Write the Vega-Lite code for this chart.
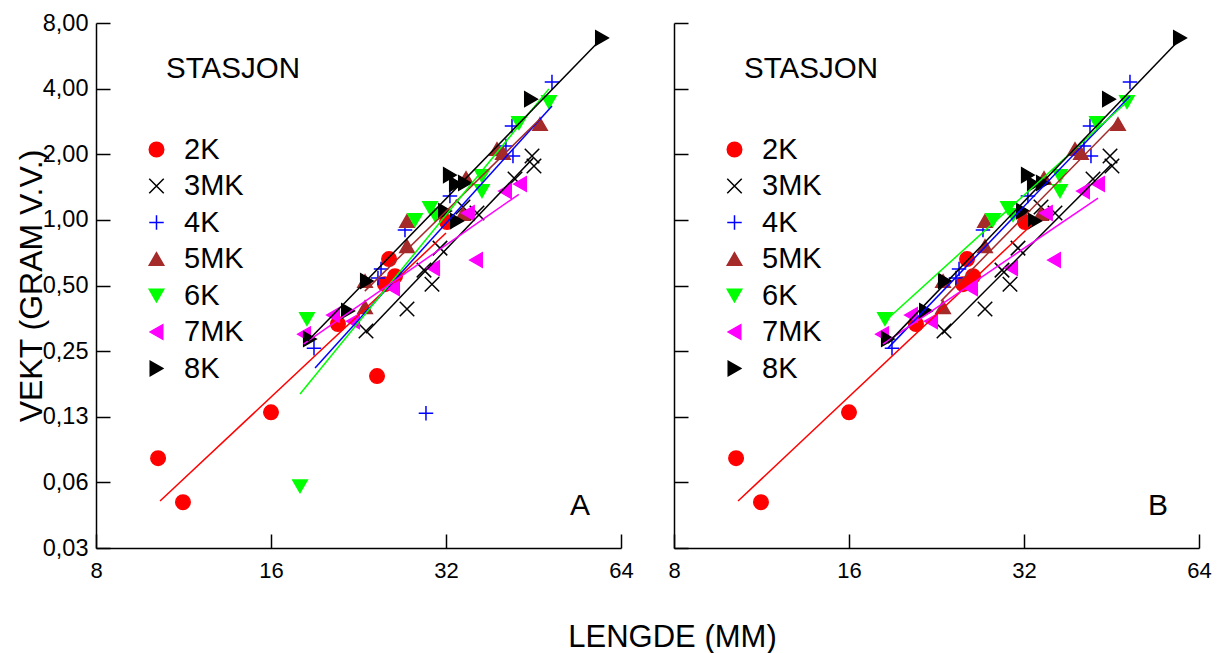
{
  "$schema": "https://vega.github.io/schema/vega-lite/v6.json",
  "background": "white",
  "padding": {"left": 14, "top": 11, "right": 5, "bottom": 5},
  "bounds": "flush",
  "spacing": 53,
  "config": {
    "view": {"stroke": null},
    "font": "Liberation Sans",
    "axis": {
      "domainColor": "black", "domainWidth": 1.5, "tickColor": "black", "tickWidth": 1.5, "tickSize": -14,
      "grid": false, "labelFont": "Liberation Sans", "labelFontSize": 22, "labelColor": "black",
      "titleFont": "Liberation Sans", "titleFontSize": 31, "titleFontWeight": "normal", "titleColor": "black",
      "labelFlush": false, "labelOverlap": false
    },
    "legend": {
      "orient": "none", "legendX": 46, "legendY": 112, "title": null,
      "labelFont": "Liberation Sans", "labelFontSize": 29, "labelColor": "black",
      "symbolSize": 210, "symbolStrokeWidth": 1.5, "labelOffset": 13, "rowPadding": 6.5
    }
  },
  "datasets": {
    "pts": [
      {"s": "2K", "x": 10.23, "y": 0.0807, "b": true},
      {"s": "2K", "x": 11.29, "y": 0.0507, "b": true},
      {"s": "2K", "x": 16.0, "y": 0.131, "b": true},
      {"s": "2K", "x": 24.35, "y": 0.192, "b": false},
      {"s": "2K", "x": 20.86, "y": 0.333, "b": true},
      {"s": "2K", "x": 25.54, "y": 0.661, "b": true},
      {"s": "2K", "x": 25.13, "y": 0.507, "b": true},
      {"s": "2K", "x": 26.15, "y": 0.552, "b": true},
      {"s": "2K", "x": 32.13, "y": 0.977, "b": true},
      {"s": "3MK", "x": 23.31, "y": 0.309, "b": true},
      {"s": "3MK", "x": 27.42, "y": 0.39, "b": true},
      {"s": "3MK", "x": 29.33, "y": 0.588, "b": true},
      {"s": "3MK", "x": 30.27, "y": 0.507, "b": true},
      {"s": "3MK", "x": 31.25, "y": 0.742, "b": true},
      {"s": "3MK", "x": 34.23, "y": 1.145, "b": true},
      {"s": "3MK", "x": 36.18, "y": 1.075, "b": true},
      {"s": "3MK", "x": 42.06, "y": 1.539, "b": true},
      {"s": "3MK", "x": 44.99, "y": 1.962, "b": true},
      {"s": "3MK", "x": 45.34, "y": 1.765, "b": true},
      {"s": "4K", "x": 18.97, "y": 0.258, "b": true},
      {"s": "4K", "x": 24.44, "y": 0.541, "b": true},
      {"s": "4K", "x": 24.74, "y": 0.595, "b": true},
      {"s": "4K", "x": 27.2, "y": 0.898, "b": true},
      {"s": "4K", "x": 29.56, "y": 0.1297, "b": false},
      {"s": "4K", "x": 32.5, "y": 1.286, "b": true},
      {"s": "4K", "x": 40.58, "y": 2.181, "b": true},
      {"s": "4K", "x": 41.56, "y": 2.694, "b": true},
      {"s": "4K", "x": 41.72, "y": 1.962, "b": true},
      {"s": "4K", "x": 48.69, "y": 4.29, "b": true},
      {"s": "5MK", "x": 23.22, "y": 0.398, "b": true},
      {"s": "5MK", "x": 23.22, "y": 0.524, "b": true},
      {"s": "5MK", "x": 27.42, "y": 0.988, "b": true},
      {"s": "5MK", "x": 27.42, "y": 0.758, "b": true},
      {"s": "5MK", "x": 34.23, "y": 1.063, "b": true},
      {"s": "5MK", "x": 34.64, "y": 1.555, "b": true},
      {"s": "5MK", "x": 39.16, "y": 2.113, "b": true},
      {"s": "5MK", "x": 40.1, "y": 2.025, "b": true},
      {"s": "5MK", "x": 46.43, "y": 2.751, "b": true},
      {"s": "6K", "x": 17.95, "y": 0.06, "b": false},
      {"s": "6K", "x": 18.45, "y": 0.351, "b": true},
      {"s": "6K", "x": 28.3, "y": 0.998, "b": true},
      {"s": "6K", "x": 30.04, "y": 1.133, "b": true},
      {"s": "6K", "x": 30.64, "y": 1.052, "b": true},
      {"s": "6K", "x": 36.9, "y": 1.589, "b": true},
      {"s": "6K", "x": 36.9, "y": 1.355, "b": true},
      {"s": "6K", "x": 42.73, "y": 2.78, "b": true},
      {"s": "6K", "x": 48.12, "y": 3.47, "b": true},
      {"s": "7MK", "x": 18.24, "y": 0.299, "b": true},
      {"s": "7MK", "x": 20.45, "y": 0.366, "b": true},
      {"s": "7MK", "x": 22.14, "y": 0.343, "b": true},
      {"s": "7MK", "x": 25.94, "y": 0.486, "b": true},
      {"s": "7MK", "x": 30.4, "y": 0.601, "b": true},
      {"s": "7MK", "x": 34.9, "y": 1.075, "b": true},
      {"s": "7MK", "x": 36.04, "y": 0.654, "b": true},
      {"s": "7MK", "x": 40.42, "y": 1.355, "b": true},
      {"s": "7MK", "x": 42.9, "y": 1.46, "b": true},
      {"s": "8K", "x": 18.67, "y": 0.284, "b": true},
      {"s": "8K", "x": 21.71, "y": 0.382, "b": true},
      {"s": "8K", "x": 23.4, "y": 0.524, "b": true},
      {"s": "8K", "x": 31.88, "y": 1.097, "b": true},
      {"s": "8K", "x": 32.5, "y": 1.605, "b": true},
      {"s": "8K", "x": 33.29, "y": 1.46, "b": true},
      {"s": "8K", "x": 34.5, "y": 1.475, "b": true},
      {"s": "8K", "x": 33.43, "y": 0.988, "b": true},
      {"s": "8K", "x": 44.81, "y": 3.58, "b": true},
      {"s": "8K", "x": 59.36, "y": 6.83, "b": true}
    ],
    "lns": [
      {"p": "A", "s": "2K", "x": 10.31, "y": 0.0513},
      {"p": "A", "s": "2K", "x": 32.0, "y": 0.87},
      {"p": "A", "s": "3MK", "x": 23.3, "y": 0.302},
      {"p": "A", "s": "3MK", "x": 45.2, "y": 1.92},
      {"p": "A", "s": "4K", "x": 19.05, "y": 0.209},
      {"p": "A", "s": "4K", "x": 48.7, "y": 3.33},
      {"p": "A", "s": "5MK", "x": 23.2, "y": 0.471},
      {"p": "A", "s": "5MK", "x": 46.4, "y": 2.9},
      {"p": "A", "s": "6K", "x": 17.95, "y": 0.159},
      {"p": "A", "s": "6K", "x": 48.1, "y": 3.99},
      {"p": "A", "s": "7MK", "x": 18.2, "y": 0.269},
      {"p": "A", "s": "7MK", "x": 42.7, "y": 1.31},
      {"p": "A", "s": "8K", "x": 18.5, "y": 0.278},
      {"p": "A", "s": "8K", "x": 59.4, "y": 6.83},
      {"p": "B", "s": "2K", "x": 10.31, "y": 0.0513},
      {"p": "B", "s": "2K", "x": 33.0, "y": 0.95},
      {"p": "B", "s": "3MK", "x": 23.12, "y": 0.299},
      {"p": "B", "s": "3MK", "x": 45.3, "y": 1.804},
      {"p": "B", "s": "4K", "x": 18.67, "y": 0.258},
      {"p": "B", "s": "4K", "x": 48.7, "y": 3.7},
      {"p": "B", "s": "5MK", "x": 23.03, "y": 0.424},
      {"p": "B", "s": "5MK", "x": 46.4, "y": 2.84},
      {"p": "B", "s": "6K", "x": 18.45, "y": 0.343},
      {"p": "B", "s": "6K", "x": 48.3, "y": 3.51},
      {"p": "B", "s": "7MK", "x": 18.3, "y": 0.269},
      {"p": "B", "s": "7MK", "x": 42.9, "y": 1.259},
      {"p": "B", "s": "8K", "x": 18.67, "y": 0.272},
      {"p": "B", "s": "8K", "x": 59.4, "y": 6.76}
    ],
    "lab": [
      {"p": "A", "k": "title", "t": "STASJON", "x": 10.56, "y": 4.92},
      {"p": "A", "k": "panel", "t": "A", "x": 54.4, "y": 0.0486},
      {"p": "B", "k": "title", "t": "STASJON", "x": 10.56, "y": 4.92},
      {"p": "B", "k": "panel", "t": "B", "x": 54.4, "y": 0.0486}
    ]
  },
  "resolve": {
    "scale": {"fill": "independent", "stroke": "independent", "shape": "independent", "color": "independent"},
    "legend": {"fill": "independent", "stroke": "independent", "shape": "independent"}
  },
  "hconcat": [
    {
      "width": 525, "height": 525,
      "layer": [
        {
          "data": {"name": "pts"},
          "mark": {"type": "point", "filled": true, "size": 210, "strokeWidth": 1.5, "opacity": 1},
          "encoding": {
            "x": {"field": "x", "type": "quantitative", "scale": {"type": "log", "base": 2, "domain": [8, 64], "nice": false},
              "axis": {"values": [8, 16, 32, 64], "title": "LENGDE (MM)", "labelPadding": 26, "titleX": 576, "titleY": 98, "titleBaseline": "alphabetic", "titleAlign": "center"}},
            "y": {"field": "y", "type": "quantitative", "scale": {"type": "log", "base": 2, "domain": [0.03125, 8], "nice": false},
              "axis": {"values": [0.03125, 0.0625, 0.125, 0.25, 0.5, 1, 2, 4, 8], "labelExpr": "replace(format(datum.value, '.2f'), '.', ',')", "labelPadding": 22, "labelFontSize": 23.5,
                "title": "VEKT (GRAM V.V.)", "titleFontSize": 32, "titleX": -55, "titleY": 262.5, "titleAngle": 270, "titleAlign": "center", "titleBaseline": "alphabetic"}},
            "fill": {"field": "s", "type": "nominal",
              "scale": {"domain": ["2K", "3MK", "4K", "5MK", "6K", "7MK", "8K"], "range": ["#ff0000", "#000000", "#0000ff", "#a52a2a", "#00ff00", "#ff00ff", "#000000"]}},
            "stroke": {"field": "s", "type": "nominal",
              "scale": {"domain": ["2K", "3MK", "4K", "5MK", "6K", "7MK", "8K"], "range": ["#ff0000", "#000000", "#0000ff", "#a52a2a", "#00ff00", "#ff00ff", "#000000"]}},
            "shape": {"field": "s", "type": "nominal",
              "scale": {"domain": ["2K", "3MK", "4K", "5MK", "6K", "7MK", "8K"], "range": ["circle", "M-1,-1L1,1M-1,1L1,-1", "M-1,0L1,0M0,-1L0,1", "triangle-up", "triangle-down", "triangle-left", "triangle-right"]}}
          }
        },
        {
          "data": {"name": "lns"},
          "transform": [{"filter": "datum.p === 'A'"}],
          "mark": {"type": "line", "strokeWidth": 1.5},
          "encoding": {
            "x": {"field": "x", "type": "quantitative"},
            "y": {"field": "y", "type": "quantitative"},
            "detail": {"field": "s"},
            "color": {"field": "s", "type": "nominal", "legend": null,
              "scale": {"domain": ["8K", "7MK", "6K", "5MK", "4K", "3MK", "2K"], "range": ["#000000", "#ff00ff", "#00ff00", "#a52a2a", "#0000ff", "#000000", "#ff0000"]}}
          }
        },
        {
          "data": {"name": "lab"},
          "transform": [{"filter": "datum.p === 'A' && datum.k === 'title'"}],
          "mark": {"type": "text", "font": "Liberation Sans", "fontSize": 29.5, "align": "left", "baseline": "middle", "color": "black"},
          "encoding": {"x": {"field": "x", "type": "quantitative"}, "y": {"field": "y", "type": "quantitative"}, "text": {"field": "t"}}
        },
        {
          "data": {"name": "lab"},
          "transform": [{"filter": "datum.p === 'A' && datum.k === 'panel'"}],
          "mark": {"type": "text", "font": "Liberation Sans", "fontSize": 30, "align": "center", "baseline": "middle", "color": "black"},
          "encoding": {"x": {"field": "x", "type": "quantitative"}, "y": {"field": "y", "type": "quantitative"}, "text": {"field": "t"}}
        }
      ]
    },
    {
      "width": 525, "height": 525,
      "layer": [
        {
          "data": {"name": "pts"},
          "transform": [{"filter": "datum.b"}],
          "mark": {"type": "point", "filled": true, "size": 210, "strokeWidth": 1.5, "opacity": 1},
          "encoding": {
            "x": {"field": "x", "type": "quantitative", "scale": {"type": "log", "base": 2, "domain": [8, 64], "nice": false},
              "axis": {"values": [8, 16, 32, 64], "title": null, "labelPadding": 26}},
            "y": {"field": "y", "type": "quantitative", "scale": {"type": "log", "base": 2, "domain": [0.03125, 8], "nice": false},
              "axis": {"values": [0.03125, 0.0625, 0.125, 0.25, 0.5, 1, 2, 4, 8], "labels": false, "title": null}},
            "fill": {"field": "s", "type": "nominal",
              "scale": {"domain": ["2K", "3MK", "4K", "5MK", "6K", "7MK", "8K"], "range": ["#ff0000", "#000000", "#0000ff", "#a52a2a", "#00ff00", "#ff00ff", "#000000"]}},
            "stroke": {"field": "s", "type": "nominal",
              "scale": {"domain": ["2K", "3MK", "4K", "5MK", "6K", "7MK", "8K"], "range": ["#ff0000", "#000000", "#0000ff", "#a52a2a", "#00ff00", "#ff00ff", "#000000"]}},
            "shape": {"field": "s", "type": "nominal",
              "scale": {"domain": ["2K", "3MK", "4K", "5MK", "6K", "7MK", "8K"], "range": ["circle", "M-1,-1L1,1M-1,1L1,-1", "M-1,0L1,0M0,-1L0,1", "triangle-up", "triangle-down", "triangle-left", "triangle-right"]}}
          }
        },
        {
          "data": {"name": "lns"},
          "transform": [{"filter": "datum.p === 'B'"}],
          "mark": {"type": "line", "strokeWidth": 1.5},
          "encoding": {
            "x": {"field": "x", "type": "quantitative"},
            "y": {"field": "y", "type": "quantitative"},
            "detail": {"field": "s"},
            "color": {"field": "s", "type": "nominal", "legend": null,
              "scale": {"domain": ["8K", "7MK", "6K", "5MK", "4K", "3MK", "2K"], "range": ["#000000", "#ff00ff", "#00ff00", "#a52a2a", "#0000ff", "#000000", "#ff0000"]}}
          }
        },
        {
          "data": {"name": "lab"},
          "transform": [{"filter": "datum.p === 'B' && datum.k === 'title'"}],
          "mark": {"type": "text", "font": "Liberation Sans", "fontSize": 29.5, "align": "left", "baseline": "middle", "color": "black"},
          "encoding": {"x": {"field": "x", "type": "quantitative"}, "y": {"field": "y", "type": "quantitative"}, "text": {"field": "t"}}
        },
        {
          "data": {"name": "lab"},
          "transform": [{"filter": "datum.p === 'B' && datum.k === 'panel'"}],
          "mark": {"type": "text", "font": "Liberation Sans", "fontSize": 30, "align": "center", "baseline": "middle", "color": "black"},
          "encoding": {"x": {"field": "x", "type": "quantitative"}, "y": {"field": "y", "type": "quantitative"}, "text": {"field": "t"}}
        }
      ]
    }
  ]
}
